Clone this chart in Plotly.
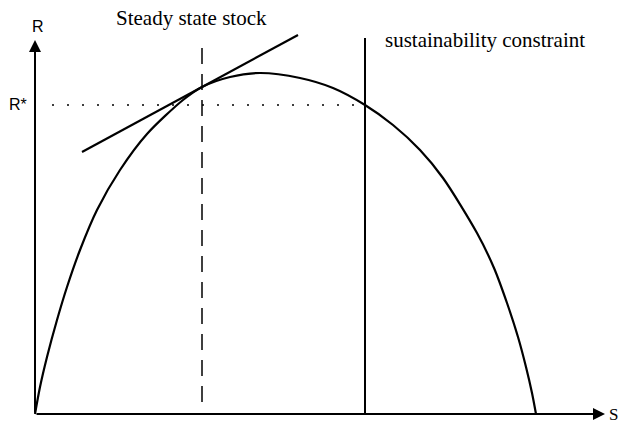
import plotly.graph_objects as go

# Growth / harvest curve R(S) (arbitrary units)
stock = [0, 5, 12, 22, 32, 45, 62, 85, 112, 148, 167, 195, 225, 265, 298, 330,
         358, 385, 408, 442, 459, 472, 483, 491, 497, 501]
harvest = [0, 27, 57, 94, 127, 164, 204, 244, 280, 314, 327, 337, 341, 336, 326, 309,
           289, 264, 236, 181, 146, 111, 77, 47, 21, 0]

# Tangent line at the steady state
tangent_S = [47, 263]
tangent_R = [262, 379]

steady_state_S = 167
sustainability_S = 330
R_star = 309
axis_S_max = 570
axis_R_max = 374

serif = "Liberation Serif"
sans = "Liberation Sans"

fig = go.Figure()

# Dotted R* line
fig.add_trace(go.Scatter(x=[17, sustainability_S], y=[R_star, R_star], mode="lines",
                         line=dict(color="black", width=1.5, dash="2px,13px"), hoverinfo="skip"))
# Dashed steady-state line
fig.add_trace(go.Scatter(x=[steady_state_S, steady_state_S], y=[12, 367], mode="lines",
                         line=dict(color="black", width=1.5, dash="16px,10px"), hoverinfo="skip"))
# Sustainability constraint
fig.add_trace(go.Scatter(x=[sustainability_S, sustainability_S], y=[0, 376], mode="lines",
                         line=dict(color="black", width=2), hoverinfo="skip"))
# Curve
fig.add_trace(go.Scatter(x=stock, y=harvest, mode="lines",
                         line=dict(color="black", width=2.2, shape="spline", smoothing=0.8),
                         hoverinfo="skip"))
# Tangent
fig.add_trace(go.Scatter(x=tangent_S, y=tangent_R, mode="lines",
                         line=dict(color="black", width=2.2), hoverinfo="skip"))

annotations = [
    # axes with arrows
    dict(x=axis_S_max, y=0, ax=0, ay=0, xref="x", yref="y", axref="x", ayref="y",
         showarrow=True, arrowhead=2, arrowsize=1.2, arrowwidth=2, arrowcolor="black", text=""),
    dict(x=0, y=axis_R_max, ax=0, ay=0, xref="x", yref="y", axref="x", ayref="y",
         showarrow=True, arrowhead=2, arrowsize=1.2, arrowwidth=2, arrowcolor="black", text=""),
    dict(x=3, y=388, text="R", showarrow=False, font=dict(family=sans, size=16, color="black")),
    dict(x=-17, y=R_star + 1, text="R*", showarrow=False, font=dict(family=sans, size=16, color="black")),
    dict(x=572, y=0, text="S", showarrow=False, xanchor="left",
         font=dict(family=serif, size=17, color="black")),
    dict(x=156, y=396, text="Steady state stock", showarrow=False,
         font=dict(family=serif, size=21, color="black")),
    dict(x=348, y=374, text="sustainability constraint", showarrow=False, xanchor="left",
         font=dict(family=serif, size=21, color="black")),
]

fig.update_layout(
    width=621, height=425,
    margin=dict(l=0, r=0, t=0, b=0),
    paper_bgcolor="white", plot_bgcolor="white",
    showlegend=False,
    xaxis=dict(range=[-35, 586], visible=False, fixedrange=True),
    yaxis=dict(range=[-11, 414], visible=False, fixedrange=True),
    annotations=annotations,
)

fig.write_html("out.html", post_script="document.body.style.margin='0';",
               config={"displayModeBar": False})
